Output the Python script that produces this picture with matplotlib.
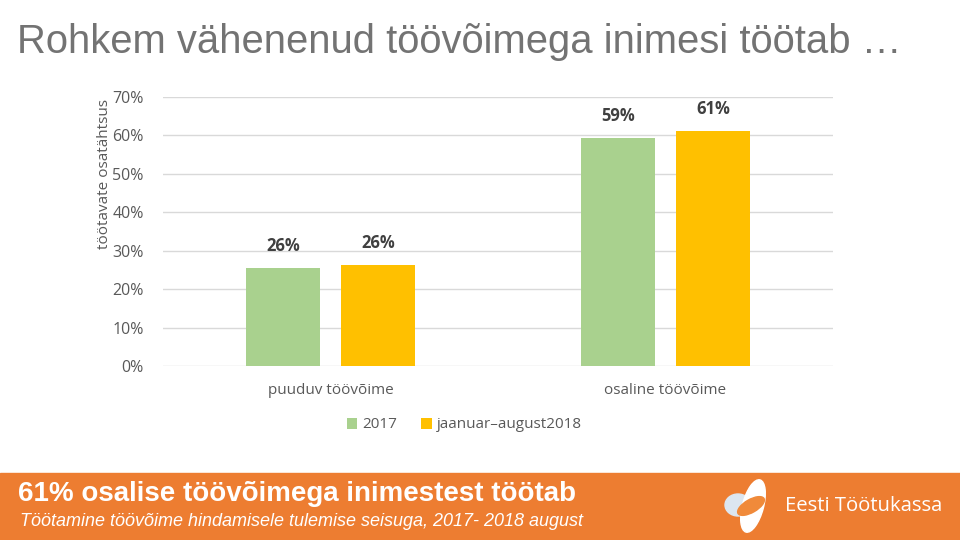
import matplotlib
matplotlib.use("Agg")
import matplotlib.pyplot as plt
from matplotlib.patches import Ellipse, Rectangle
import numpy as np

categories = ["puuduv töövõime", "osaline töövõime"]
series_names = ["2017", "jaanuar\u2013august2018"]
values_2017 = [0.255, 0.594]
values_2018 = [0.263, 0.612]
value_labels_2017 = ["26%", "59%"]
value_labels_2018 = ["26%", "61%"]
yticks = [0, 0.1, 0.2, 0.3, 0.4, 0.5, 0.6, 0.7]
ytick_labels = ["0%", "10%", "20%", "30%", "40%", "50%", "60%", "70%"]

title = "Rohkem vähenenud töövõimega inimesi töötab …"
footer_title = "61% osalise töövõimega inimestest töötab"
footer_sub = "Töötamine töövõime hindamisele tulemise seisuga, 2017- 2018 august"
logo_text = "Eesti Töötukassa"

GREEN = "#A9D18E"
YELLOW = "#FFC000"
ORANGE = "#ED7D31"
GRAY = "#595959"

W, H = 960, 540
fig = plt.figure(figsize=(9.6, 5.4), dpi=100)
fig.patch.set_facecolor("white")

def fx(px):
    return px / W

def fy(py):
    return 1 - py / H

band = Rectangle((0, 0), 1, fy(473), transform=fig.transFigure, color=ORANGE, zorder=-5)
fig.add_artist(band)

ax = fig.add_axes([fx(163), fy(366), fx(833) - fx(163), fy(97) - fy(366)])
x = np.arange(len(categories))
bw = 0.22
off = 0.142
b1 = ax.bar(x - off, values_2017, bw, color=GREEN, label=series_names[0], zorder=3)
b2 = ax.bar(x + off, values_2018, bw, color=YELLOW, label=series_names[1], zorder=3)
for bars, labs in ((b1, value_labels_2017), (b2, value_labels_2018)):
    for r, lab in zip(bars, labs):
        ax.annotate(lab, (r.get_x() + r.get_width() / 2, r.get_height()),
                    xytext=(0, 16), textcoords="offset points", ha="center",
                    va="center", fontsize=12, fontweight="bold", color="#404040",
                    family=["Open Sans", "DejaVu Sans"])
ax.set_xlim(-0.5, 1.5)
ax.set_ylim(0, 0.7)
ax.set_yticks(yticks)
ax.set_yticklabels(ytick_labels)
ax.set_xticks(x)
ax.set_xticklabels(categories)
ax.grid(axis="y", color="#D9D9D9", linewidth=1, zorder=0)
for s in ax.spines.values():
    s.set_visible(False)
ax.tick_params(axis="both", length=0, colors=GRAY, labelsize=11.5)
ax.tick_params(axis="y", pad=14)
ax.tick_params(axis="x", pad=12, labelsize=11)
for t in ax.get_xticklabels() + ax.get_yticklabels():
    t.set_family(["Open Sans", "DejaVu Sans"])
fig.text(fx(104), fy(174), "töötavate osatähtsus", rotation=90, ha="center",
         va="center", color=GRAY, fontsize=11, family=["Open Sans", "DejaVu Sans"])

leg = ax.legend(loc="center", bbox_to_anchor=(fx(464), fy(425)),
                bbox_transform=fig.transFigure, ncol=2, frameon=False,
                handlelength=0.7, handleheight=0.7, handletextpad=0.3,
                columnspacing=1.6, fontsize=11)
for t in leg.get_texts():
    t.set_color(GRAY)
    t.set_family(["Open Sans", "DejaVu Sans"])

fig.text(fx(17), fy(42), title, ha="left", va="center", fontsize=28.8,
         color="#737373", family=["Liberation Sans", "DejaVu Sans"])

fig.text(fx(18), fy(494), footer_title, ha="left", va="center", fontsize=20,
         fontweight="bold", color="white", family=["Liberation Sans", "DejaVu Sans"])
fig.text(fx(20), fy(522), footer_sub, ha="left", va="center", fontsize=13,
         fontstyle="italic", color="white", family=["Liberation Sans", "DejaVu Sans"])

# logo
lax = fig.add_axes([fx(720), fy(535), fx(60), fy(475) - fy(535)], zorder=5)
lax.set_xlim(0, 60)
lax.set_ylim(60, 0)
lax.set_aspect("equal")
lax.axis("off")
lax.add_patch(Ellipse((18, 30), 26, 22, angle=0, color="#DCE6F0"))
lax.add_patch(Ellipse((33, 31), 21, 54, angle=15, color="white"))
lax.add_patch(Ellipse((31, 31), 30, 13, angle=-30, color="#F08A3A"))
fig.text(fx(785), fy(506), logo_text, ha="left", va="center", fontsize=14.6,
         color="white", family=["Open Sans", "DejaVu Sans"])

fig.savefig("out.png", dpi=100)
